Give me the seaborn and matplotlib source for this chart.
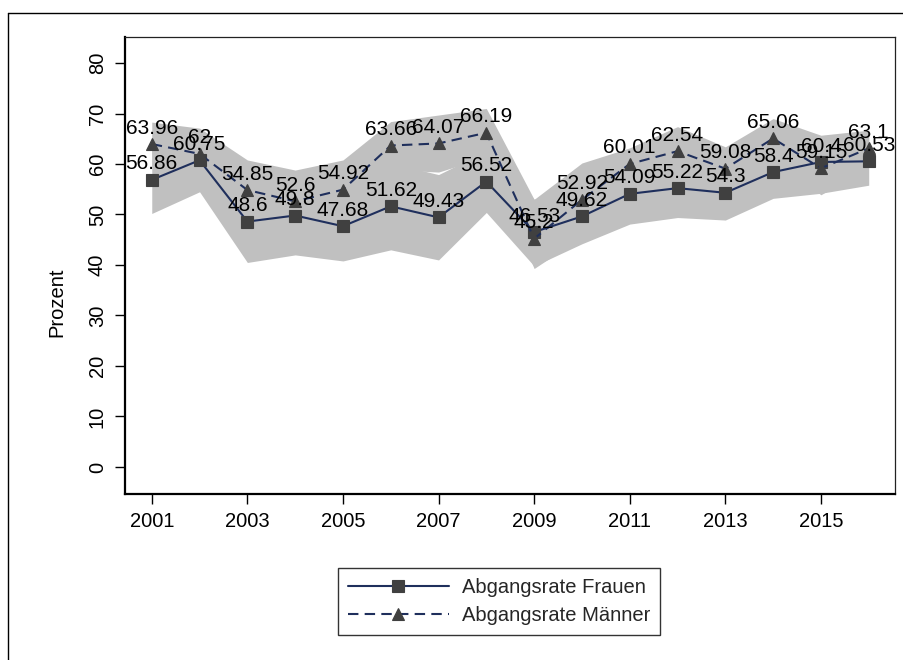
import matplotlib
matplotlib.use("Agg")
import matplotlib.pyplot as plt
from matplotlib.lines import Line2D
import seaborn as sns
import pandas as pd

# Abgangsraten nach Geschlecht, 2001-2016 (in Prozent)
jahre = list(range(2001, 2017))
frauen = [56.86, 60.75, 48.6, 49.8, 47.68, 51.62, 49.43, 56.52,
          46.53, 49.62, 54.09, 55.22, 54.3, 58.4, 60.4, 60.53]
maenner = [63.96, 62, 54.85, 52.6, 54.92, 63.66, 64.07, 66.19,
           45.2, 52.92, 60.01, 62.54, 59.08, 65.06, 59.15, 63.1]

# Konfidenzintervalle
frauen_lo = [50.2, 54.5, 40.5, 42.0, 40.8, 43.0, 41.0, 50.4,
             39.8, 44.2, 48.1, 49.4, 48.9, 53.2, 54.2, 55.8]
frauen_hi = [63.5, 67.0, 56.7, 57.6, 54.6, 60.2, 57.9, 62.6,
             53.0, 55.0, 60.1, 61.0, 59.7, 63.6, 65.5, 65.3]
maenner_lo = [59.6, 56.9, 48.9, 46.4, 49.0, 58.9, 58.4, 61.4,
              39.3, 45.6, 57.0, 57.7, 54.8, 61.1, 53.9, 59.5]
maenner_hi = [68.3, 67.1, 60.8, 58.8, 60.8, 68.4, 69.7, 71.0,
              53.0, 60.2, 63.2, 67.4, 63.4, 69.0, 65.7, 66.7]

gruppen = ["Abgangsrate Frauen", "Abgangsrate Männer"]
xticks = [2001, 2003, 2005, 2007, 2009, 2011, 2013, 2015]
yticks = [0, 10, 20, 30, 40, 50, 60, 70, 80]

df = pd.DataFrame({
    "Jahr": jahre * 2,
    "Prozent": frauen + maenner,
    "Gruppe": [gruppen[0]] * len(jahre) + [gruppen[1]] * len(jahre),
})

sns.set_theme(style="white")
plt.rcParams["font.family"] = ["Liberation Sans", "DejaVu Sans"]

FS = 14.5
navy = "#1f2f5c"
mark = "#404040"
band = "#c0c0c0"

fig = plt.figure(figsize=(9.04, 6.6), dpi=100)
ax = fig.add_axes([125 / 904, 1 - 494 / 660, 770 / 904, 457 / 660])

ax.fill_between(jahre, frauen_lo, frauen_hi, color=band, lw=0, zorder=1)
ax.fill_between(jahre, maenner_lo, maenner_hi, color=band, lw=0, zorder=1)

sns.lineplot(
    data=df, x="Jahr", y="Prozent", hue="Gruppe", style="Gruppe",
    palette={gruppen[0]: navy, gruppen[1]: navy},
    markers={gruppen[0]: "s", gruppen[1]: "^"},
    dashes={gruppen[0]: "", gruppen[1]: (5, 3)},
    markersize=8, markerfacecolor=mark, markeredgecolor=mark,
    markeredgewidth=0.8, linewidth=1.5, errorbar=None, legend=False,
    ax=ax, zorder=3,
)

for werte in (frauen, maenner):
    for x, v in zip(jahre, werte):
        ax.annotate(f"{v:g}", (x, v), xytext=(0, 11.5),
                    textcoords="offset points", ha="center", va="center",
                    fontsize=15, color="black", zorder=4)

ax.set_xlim(2000.44, 2016.55)
ax.set_ylim(-5.35, 85.15)
ax.set_xticks(xticks)
ax.set_yticks(yticks)
ax.set_xlabel("")
ax.set_ylabel("Prozent", fontsize=FS, color="black")
ax.yaxis.set_label_coords((66 - 125) / 770, 0.42)
ax.tick_params(axis="both", which="both", direction="out", length=7,
               width=1.0, color="black", labelsize=FS, labelcolor="black",
               left=True, bottom=True)
ax.tick_params(axis="y", pad=6)
ax.tick_params(axis="x", pad=6)
for lab in ax.get_yticklabels():
    lab.set_rotation(90)
    lab.set_va("center")

for side in ("left", "bottom"):
    ax.spines[side].set_linewidth(1.6)
    ax.spines[side].set_color("black")
for side in ("top", "right"):
    ax.spines[side].set_linewidth(0.9)
    ax.spines[side].set_color("#222222")

leg = fig.legend(
    handles=ax.lines[:2], labels=gruppen, loc="center left",
    bbox_to_anchor=(338 / 904, 1 - 601.5 / 660),
    fontsize=FS, frameon=True, fancybox=False, edgecolor="black",
    handlelength=5.0, handletextpad=0.65, labelspacing=0.45,
    borderpad=0.5, borderaxespad=0,
)
leg.get_frame().set_linewidth(1.0)

# Rahmen um die gesamte Grafik
fig.add_artist(Line2D([8 / 904, 8 / 904], [0, 1 - 13 / 660],
                      color="black", lw=1.0, transform=fig.transFigure))
fig.add_artist(Line2D([8 / 904, 1], [1 - 13 / 660, 1 - 13 / 660],
                      color="black", lw=1.0, transform=fig.transFigure))

fig.savefig("out.png", dpi=100, facecolor="white")
